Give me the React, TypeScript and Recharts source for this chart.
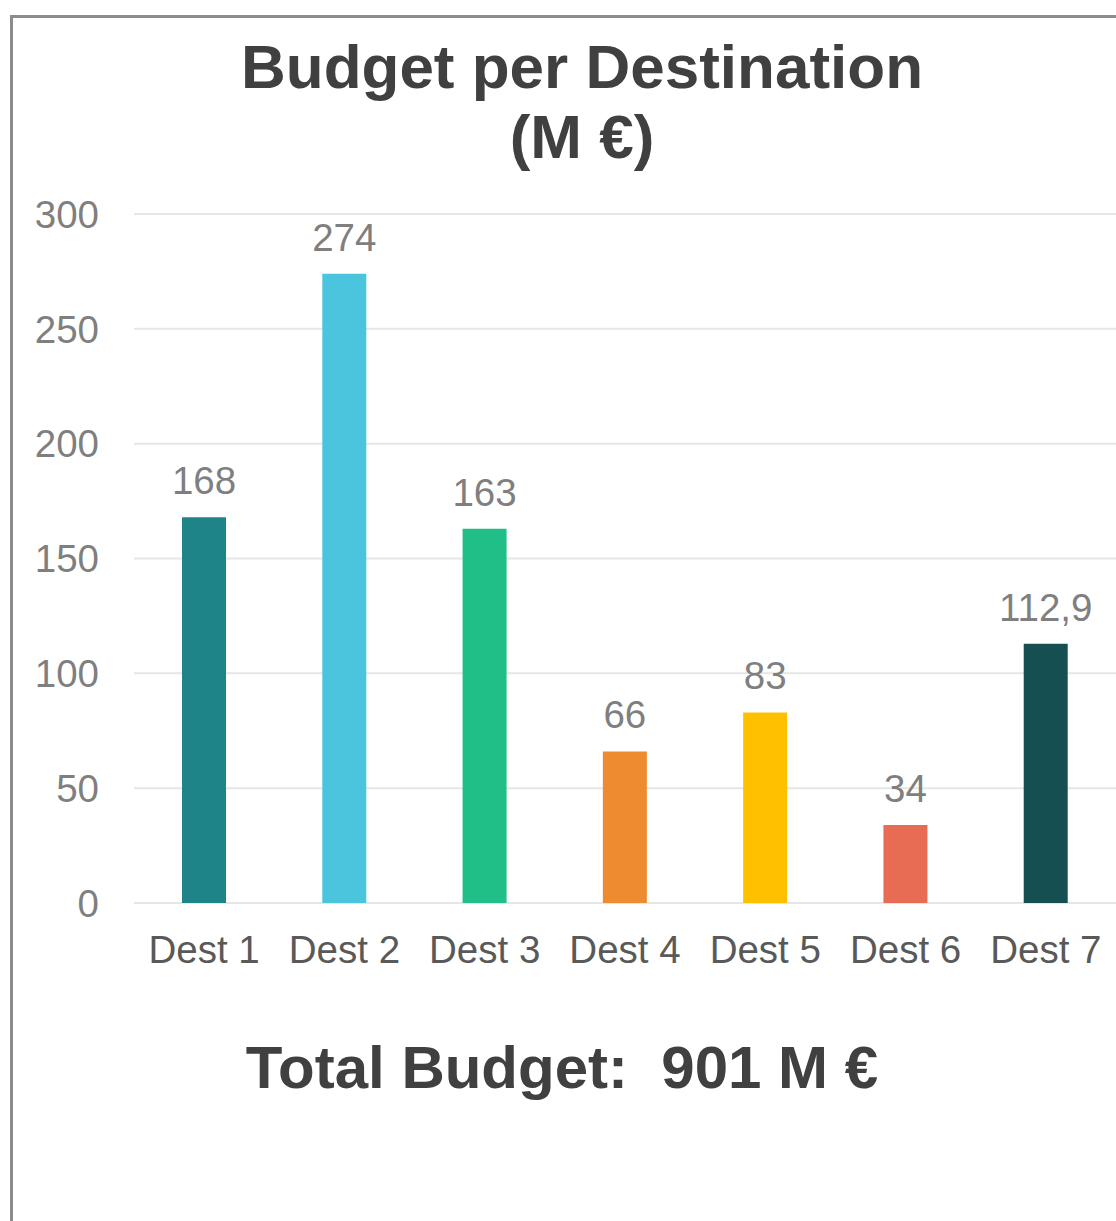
import React from "react";
import { BarChart, Bar, XAxis, YAxis, CartesianGrid, Cell, LabelList } from "recharts";

const destinations = ["Dest 1", "Dest 2", "Dest 3", "Dest 4", "Dest 5", "Dest 6", "Dest 7"];
const budgets = [168, 274, 163, 66, 83, 34, 112.9];
const barColors = ["#1E8488", "#4BC5DE", "#20BF88", "#EE8B31", "#FFC000", "#E86C54", "#154F52"];
const yTicks = [0, 50, 100, 150, 200, 250, 300];

const data = destinations.map((name, i) => ({ name, value: budgets[i] }));

const FONT = "'Liberation Sans', Arial, sans-serif";

// values use a decimal comma
const fmt = (v: any) => String(v).replace(".", ",");

const App = () => {
  return (
    <div style={{ position: "absolute", left: 0, top: 0, width: 1116, height: 1221, overflow: "hidden", background: "#fff", fontFamily: FONT }}>
      {/* frame */}
      <div
        style={{
          position: "absolute",
          left: 10,
          top: 15,
          width: 1200,
          height: 1300,
          border: "3px solid #8C8C8C",
          boxSizing: "border-box",
        }}
      />

      <div style={{ position: "absolute", left: 0, top: 0 }}>
        <BarChart width={1116} height={1000} data={data} margin={{ top: 214, right: 0, bottom: 0, left: 0 }}>
          <CartesianGrid vertical={false} stroke="#E6E6E6" strokeWidth={2} />
          <XAxis
            dataKey="name"
            axisLine={false}
            tickLine={false}
            height={97}
            tickMargin={27}
            tick={{ fill: "#595959", fontSize: 38.5, fontFamily: FONT }}
            interval={0}
          />
          <YAxis
            width={134}
            domain={[0, 300]}
            ticks={yTicks}
            axisLine={false}
            tickLine={false}
            tickMargin={29}
            tick={{ fill: "#7F7F7F", fontSize: 38.5, fontFamily: FONT }}
          />
          <Bar dataKey="value" barSize={44} isAnimationActive={false}>
            {data.map((entry, i) => (
              <Cell key={`cell-${i}`} fill={barColors[i]} />
            ))}
            <LabelList
              dataKey="value"
              position="top"
              offset={23}
              formatter={fmt}
              style={{ fill: "#7F7F7F", fontSize: 38.5, fontFamily: FONT }}
            />
          </Bar>
        </BarChart>
      </div>

      {/* titles */}
      <svg width={1116} height={1221} style={{ position: "absolute", left: 0, top: 0, pointerEvents: "none" }}>
        <text x={582} y={88} textAnchor="middle" fontSize={62} fontWeight="bold" fill="#404040" fontFamily={FONT}>
          Budget per Destination
        </text>
        <text x={582} y={158} textAnchor="middle" fontSize={62} fontWeight="bold" fill="#404040" fontFamily={FONT}>
          (M €)
        </text>
        <text x={562} y={1088} textAnchor="middle" fontSize={60} fontWeight="bold" fill="#404040" fontFamily={FONT} style={{ whiteSpace: "pre" }}>
          {"Total Budget:  901 M €"}
        </text>
      </svg>
    </div>
  );
};

export default App;
